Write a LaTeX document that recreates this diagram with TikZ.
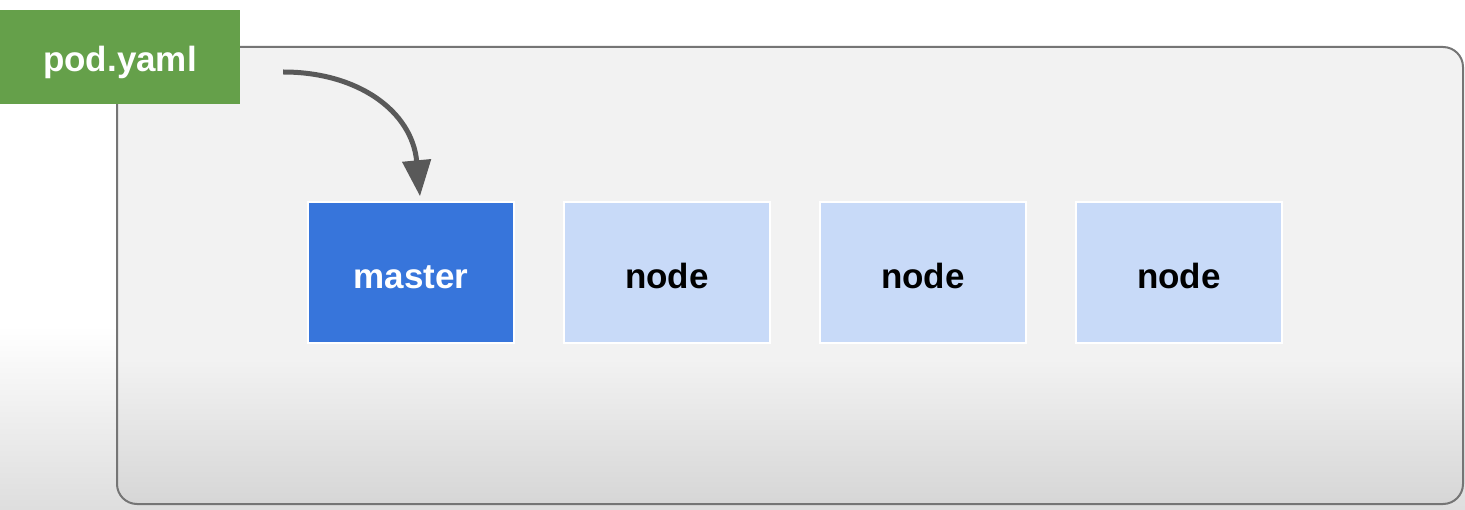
\documentclass[tikz,border=0pt]{standalone}
\usepackage{fontspec}
\setmainfont{Liberation Sans}
\usepackage{xcolor}
\usepackage{tikz}
\usetikzlibrary{positioning,arrows.meta}

\definecolor{yamlgreen}{HTML}{65A04A}
\definecolor{masterblue}{HTML}{3775DB}
\definecolor{nodeblue}{HTML}{C8DAF8}
\definecolor{framegray}{HTML}{757575}
\definecolor{arrowgray}{HTML}{595959}

% light fades, darker towards the bottom (path sits in 25bp..75bp)
\pgfdeclareverticalshading{pagefade}{100bp}{color(0bp)=(black!13); color(25bp)=(black!13); color(43bp)=(white); color(100bp)=(white)}
\pgfdeclareverticalshading{framefade}{100bp}{color(0bp)=(black!16); color(25bp)=(black!16); color(41bp)=(black!5); color(100bp)=(black!5)}

\begin{document}
\begin{tikzpicture}[x=1pt,y=1pt,
every node/.style={font=\fontsize{35}{40}\selectfont\bfseries},
box/.style={minimum width=206pt,minimum height=141pt,inner sep=0pt,
  text height=33pt,text depth=0pt,draw=white,line width=1.5pt},
mbox/.style={box,fill=masterblue,text=white},
nbox/.style={box,fill=nodeblue,text=black},
file/.style={minimum width=240pt,minimum height=94pt,inner sep=0pt,
  text height=30pt,text depth=0pt,fill=yamlgreen,text=white},
feed/.style={draw=arrowgray,line width=5pt,
  -{Triangle[length=36pt,width=28pt]}}
]
\useasboundingbox (0,0) rectangle (1465,509);
% page
\shade[shading=pagefade] (0,0) rectangle (1465,509);
% cluster frame
\shade[draw=framegray,line width=2pt,rounded corners=20pt,shading=framefade]
  (117,5) rectangle (1463,462);

\node[file] (yaml) at (120,452) {pod.yaml};

\node[mbox] (master) at (411,236.5) {master};
\node[nbox,right=48.5pt of master] (node1) {node};
\node[nbox,right=48.5pt of node1] (node2) {node};
\node[nbox,right=48.5pt of node2] (node3) {node};

\coordinate (src) at ([xshift=43pt,yshift=-15pt]yaml.east);
\coordinate (dst) at ([xshift=9pt,yshift=5pt]master.north);
\draw[feed] (src) .. controls +(75,0) and +(-8,85) .. (dst);
\end{tikzpicture}
\end{document}
